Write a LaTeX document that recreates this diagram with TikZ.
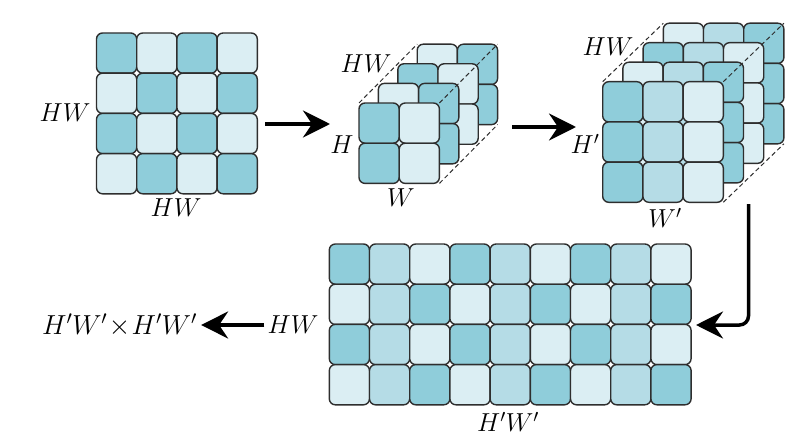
\RequirePackage{fix-cm}
\documentclass[tikz,border=0pt]{standalone}
\usetikzlibrary{arrows.meta}
\definecolor{cD}{HTML}{8FCDDA}
\definecolor{cM}{HTML}{B5DCE6}
\definecolor{cL}{HTML}{DBEEF3}
\definecolor{edgec}{HTML}{2E2E2E}
\tikzset{
  cellbox/.style={draw=edgec, line width=1.4pt, rounded corners=6pt},
  lab/.style={font=\fontsize{26}{30}\selectfont, inner sep=0pt},
  bigarrow/.style={line width=3.5pt, -{Stealth[length=27pt,width=27pt,inset=9pt]}},
  depthline/.style={draw=edgec, line width=1pt, dash pattern=on 4.5pt off 3pt},
}
\def\cs{40.2}
\newcommand\cellat[3]{\path[cellbox, fill=#3] (#1,#2) rectangle ++(\cs,\cs);}
\begin{document}
\begin{tikzpicture}[x=1pt,y=-1pt]
\useasboundingbox (0,0) rectangle (806,444);

% ---------- matrix 1 (HW x HW) ----------
\foreach [count=\r from 0] \row in {{cD,cL,cD,cL},{cL,cD,cL,cD},{cD,cL,cD,cL},{cL,cD,cL,cD}}{
  \foreach [count=\c from 0] \col in \row {
    \pgfmathsetmacro\xx{96.5+\c*\cs}
    \pgfmathsetmacro\yy{33+\r*\cs}
    \cellat{\xx}{\yy}{\col}
  }
}
\node[lab] (m1l) at (65,113) {$HW$};
\node[lab] (m1b) at (176,208) {$HW$};

% ---------- cube 2 (HW x H x W) ----------
\foreach \k in {3,2,1,0}{
  \pgfmathsetmacro\ox{359+19.4*\k}
  \pgfmathsetmacro\oy{103-19.6*\k}
  \pgfmathparse{mod(\k,2)==0 ? "cD" : "cL"}\edef\ca{\pgfmathresult}
  \pgfmathparse{mod(\k,2)==0 ? "cL" : "cD"}\edef\cb{\pgfmathresult}
  \foreach \r in {0,1}{
    \pgfmathsetmacro\yy{\oy+\r*\cs}
    \cellat{\ox}{\yy}{\ca}
    \pgfmathsetmacro\xx{\ox+\cs}
    \cellat{\xx}{\yy}{\cb}
  }
}
\coordinate (c2tl) at (359,103);
\coordinate (c2tr) at (439.4,103);
\coordinate (c2br) at (439.4,183.4);
\coordinate (c2btl) at (417.2,44.2);
\coordinate (c2btr) at (497.6,44.2);
\coordinate (c2bbr) at (497.6,124.6);
\draw[depthline] (c2tl) -- (c2btl);
\draw[depthline] (c2tr) -- (c2btr);
\draw[depthline] (c2br) -- (c2bbr);
\node[lab] (c2hw) at (366,64) {$HW$};
\node[lab] (c2h) at (342,145) {$H$};
\node[lab] (c2w) at (401,198) {$W$};

% ---------- cube 3 (HW x H' x W') ----------
\foreach \k in {3,2,1,0}{
  \pgfmathsetmacro\ox{602.7+20.2*\k}
  \pgfmathsetmacro\oy{81.7-19.5*\k}
  \pgfmathparse{mod(\k,2)==0 ? "cD" : "cL"}\edef\ca{\pgfmathresult}
  \pgfmathparse{mod(\k,2)==0 ? "cL" : "cD"}\edef\cc{\pgfmathresult}
  \foreach \r in {0,1,2}{
    \pgfmathsetmacro\yy{\oy+\r*\cs}
    \cellat{\ox}{\yy}{\ca}
    \pgfmathsetmacro\xx{\ox+\cs}
    \cellat{\xx}{\yy}{cM}
    \pgfmathsetmacro\xx{\ox+2*\cs}
    \cellat{\xx}{\yy}{\cc}
  }
}
\coordinate (c3tl) at (602.7,81.7);
\coordinate (c3tr) at (723.3,81.7);
\coordinate (c3br) at (723.3,202.3);
\coordinate (c3btl) at (663.3,23.2);
\coordinate (c3btr) at (783.9,23.2);
\coordinate (c3bbr) at (783.9,143.8);
\draw[depthline] (c3tl) -- (c3btl);
\draw[depthline] (c3tr) -- (c3btr);
\draw[depthline] (c3br) -- (c3bbr);
\node[lab] (c3hw) at (608,47) {$HW$};
\node[lab] (c3h) at (585,144) {$H'$};
\node[lab] (c3w) at (665,218) {$W'$};

% ---------- final matrix (HW x H'W') ----------
\foreach \r in {0,1,2,3}{
  \pgfmathparse{mod(\r,2)==0 ? "cD" : "cL"}\edef\ca{\pgfmathresult}
  \pgfmathparse{mod(\r,2)==0 ? "cL" : "cD"}\edef\cc{\pgfmathresult}
  \pgfmathsetmacro\yy{244+\r*\cs}
  \foreach \g in {0,1,2}{
    \pgfmathsetmacro\xx{329.3+3*\g*\cs}
    \cellat{\xx}{\yy}{\ca}
    \pgfmathsetmacro\xx{329.3+(3*\g+1)*\cs}
    \cellat{\xx}{\yy}{cM}
    \pgfmathsetmacro\xx{329.3+(3*\g+2)*\cs}
    \cellat{\xx}{\yy}{\cc}
  }
}
\node[lab] (m4b) at (508,422) {$H'W'$};
\node[lab] (m4l) at (293,325) {$HW$};
\node[lab, font=\fontsize{27.5}{32}\selectfont] (res) at (119.5,325) {$H'W'\mkern1mu{\times}\mkern1mu H'W'$};

% ---------- arrows ----------
\coordinate (a1s) at (265,124);
\coordinate (a1e) at (330,124);
\coordinate (a2s) at (512,127);
\coordinate (a2e) at (576,127);
\coordinate (a3s) at (748.5,204);
\coordinate (a3e) at (696,325);
\draw[bigarrow] (a1s) -- (a1e);
\draw[bigarrow] (a2s) -- (a2e);
\draw[bigarrow, rounded corners=9pt] (a3s) |- (a3e);
\draw[bigarrow] ([xshift=-3pt]m4l.west) -- ([xshift=4pt]res.east);
\end{tikzpicture}
\end{document}
